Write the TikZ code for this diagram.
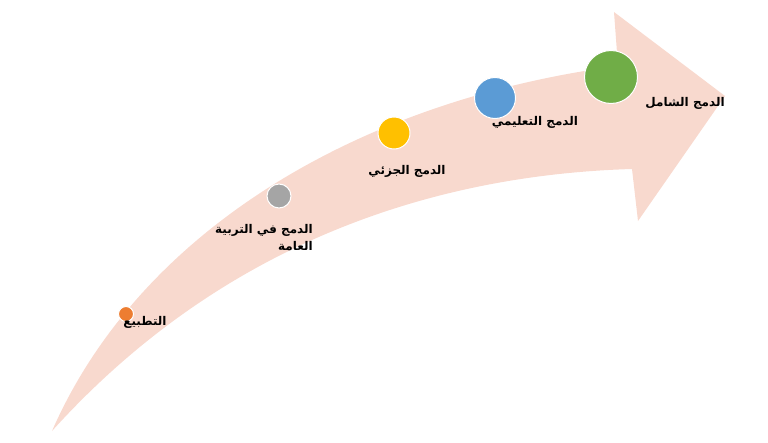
\documentclass[tikz,border=0pt]{standalone}
\usepackage{fontspec}
\usepackage{xcolor}
\newfontfamily\arabicfont[Script=Arabic]{DejaVu Sans}
\TeXXeTstate=1
\definecolor{arrowpeach}{RGB}{248,217,206}
\definecolor{dotorange}{RGB}{237,125,49}
\definecolor{dotgray}{RGB}{165,165,165}
\definecolor{dotyellow}{RGB}{255,192,0}
\definecolor{dotblue}{RGB}{91,155,213}
\definecolor{dotgreen}{RGB}{112,173,71}

\begin{document}
\begin{tikzpicture}[x=1pt,y=-1pt]
    \tikzstyle{every node}=[font=\arabicfont\bfseries\fontsize{12}{17}\selectfont]
    \tikzstyle{stage}=[circle, draw=white, line width=1pt, inner sep=0pt]
    \useasboundingbox (0,0) rectangle (768,442);
    % big curved arrow
    \fill[arrowpeach] (52,431) .. controls (140,230) and (360,100) .. (618,66)
        -- (614,12) -- (725,96) -- (638,221) -- (632,169)
        .. controls (430,175) and (220,245) .. (52,431) -- cycle;
    \node [stage, fill=dotorange, minimum size=15pt] (tatbi) at (126,314) {};
    \node [stage, fill=dotgray, minimum size=24pt] (tarbiya) at (279,196) {};
    \node [stage, fill=dotyellow, minimum size=32pt] (juzi) at (394,133) {};
    \node [stage, fill=dotblue, minimum size=41pt] (talimi) at (495,98) {};
    \node [stage, fill=dotgreen, minimum size=53pt] (shamil) at (611,77) {};
    \node (tatbilabel) at (145,322) {\beginR التطبيع\endR};
    \node [align=right, anchor=north east, inner sep=1pt] (tarbiyalabel) at (314,223) {\beginR الدمج في التربية\endR\\\beginR العامة\endR};
    \node (juzilabel) at (407,171) {\beginR الدمج الجزئي\endR};
    \node (talimilabel) at (535,122) {\beginR الدمج التعليمي\endR};
    \node (shamillabel) at (685,103) {\beginR الدمج الشامل\endR};
\end{tikzpicture}
\end{document}
